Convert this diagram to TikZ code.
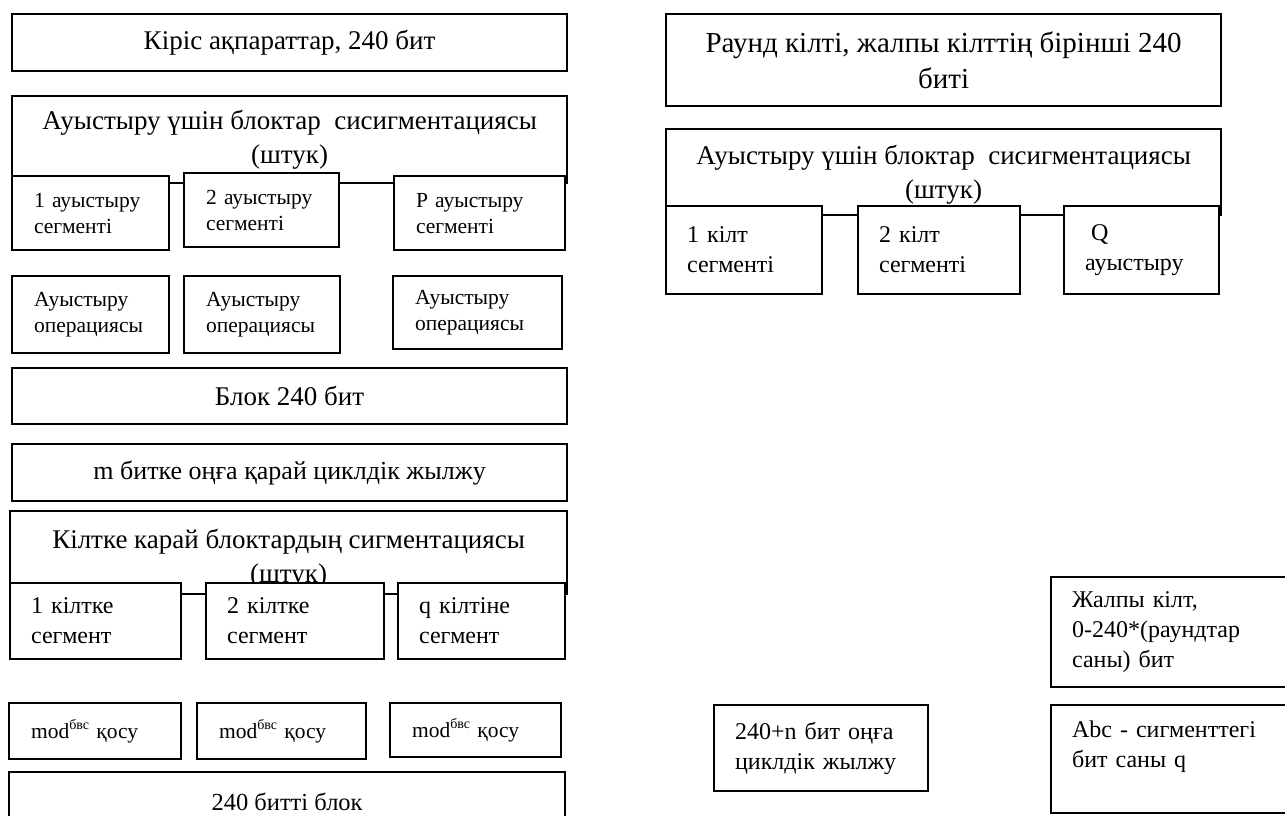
\documentclass[tikz,border=0pt]{standalone}
\usepackage{fontspec}
\setmainfont{Liberation Serif}

\begin{document}
\begin{tikzpicture}[
    x=1pt, y=-1pt,
    box/.style={rectangle, draw, line width=2.2pt, fill=white, anchor=north west, inner sep=0pt},
    wide/.style={box, align=center, font=\fontsize{27}{34}\selectfont},
    part/.style={box, align=left, inner xsep=22pt, font=\fontsize{21.5}{26}\selectfont},
    bigpart/.style={part, inner xsep=21pt, font=\fontsize{24}{30}\selectfont}
]
\useasboundingbox (0,0) rectangle (1285,816);
\clip (0,0) rectangle (1285,816);

% Block side - input and segmentation for the shift
\node[wide, minimum width=555, minimum height=57] (inp) at (11,13) {Кіріс ақпараттар, 240 бит};
\node[wide, minimum width=555, minimum height=87] (segA) at (11,95) {Ауыстыру үшін блоктар~ сисигментациясы\\(штук)};
\node[part, text width=113, minimum height=74] (segA1) at (11,175) {1 ауыстыру\\сегменті};
\node[part, text width=111, minimum height=74] (segA2) at (183,172) {2 ауыстыру\\сегменті};
\node[part, text width=127, minimum height=74] (segA3) at (393,175) {Р ауыстыру\\сегменті};

% Shift operations
\node[part, text width=113, minimum height=77] (opA1) at (11,275) {Ауыстыру\\операциясы};
\node[part, text width=112, minimum height=77] (opA2) at (183,275) {Ауыстыру\\операциясы};
\node[part, text width=125, minimum height=73] (opA3) at (392,275) {Ауыстыру\\операциясы};

\node[wide, minimum width=555, minimum height=56] (blk) at (11,367) {Блок 240 бит};
\node[wide, minimum width=555, minimum height=57, font=\fontsize{26}{34}\selectfont] (rot) at (11,443) {m битке оңға қарай циклдік жылжу};

% Segmentation for the key
\node[wide, minimum width=557, minimum height=83] (segK) at (9,510) {\rule{0pt}{31pt}Кілтке карай блоктардың сигментациясы\\(штук)};
\node[bigpart, text width=129, minimum height=76] (segK1) at (9,582) {1 кілтке\\сегмент};
\node[bigpart, text width=136, minimum height=76] (segK2) at (205,582) {2 кілтке\\сегмент};
\node[bigpart, text width=125, minimum height=76] (segK3) at (397,582) {q кілтіне\\сегмент};

% Addition
\node[part, text width=128, minimum height=56] (add1) at (8,702) {mod\raisebox{0.4em}{\fontsize{14}{14}\selectfont бвс} қосу};
\node[part, text width=125, minimum height=56] (add2) at (196,702) {mod\raisebox{0.4em}{\fontsize{14}{14}\selectfont бвс} қосу};
\node[part, text width=127, minimum height=54] (add3) at (389,702) {mod\raisebox{0.4em}{\fontsize{14}{14}\selectfont бвс} қосу};
\node[wide, minimum width=556, minimum height=59, font=\fontsize{24.5}{30}\selectfont] (outp) at (8,771) {240 битті блок};

% Key side
\node[wide, minimum width=555, minimum height=92, font=\fontsize{29}{36}\selectfont] (rkey) at (665,13) {Раунд кілті, жалпы кілттің бірінші 240\\биті};
\node[wide, minimum width=555, minimum height=86] (segR) at (665,128) {\rule{0pt}{25pt}Ауыстыру үшін блоктар~ сисигментациясы\\(штук)};
\node[bigpart, text width=114, minimum height=88] (segR1) at (665,205) {1 кілт\\сегменті};
\node[bigpart, text width=120, minimum height=88] (segR2) at (857,205) {2 кілт\\сегменті};
\node[bigpart, text width=113, minimum height=88] (segR3) at (1063,205) {\hspace{6pt}Q\\ауыстыру};

% Key schedule
\node[bigpart, text width=208, minimum height=110] (total) at (1050,576) {Жалпы кілт,\\0-240*(раундтар\\саны) бит};
\node[bigpart, text width=208, minimum height=108] (bits) at (1050,704) {Abc - сигменттегі\\бит саны q\\\mbox{}};
\node[bigpart, text width=172, minimum height=86] (rotR) at (713,704) {240+n бит оңға\\циклдік жылжу};

\end{tikzpicture}
\end{document}
